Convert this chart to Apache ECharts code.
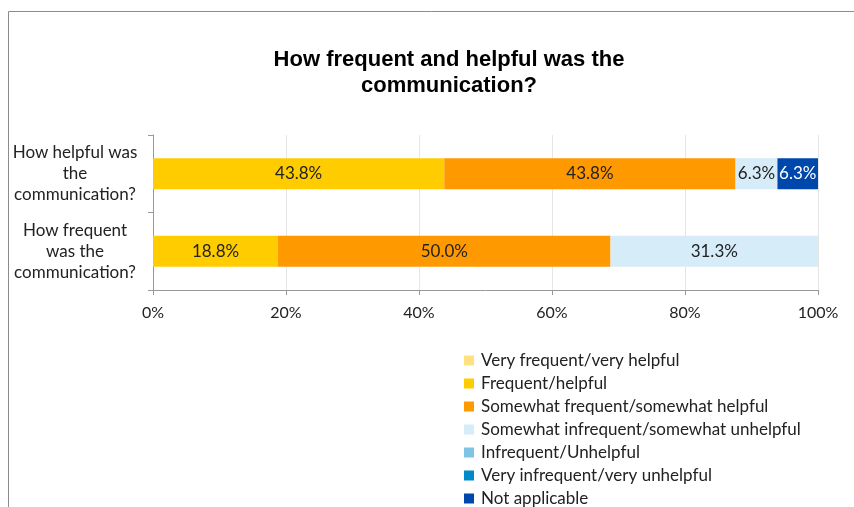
<!DOCTYPE html>
<html>
<head>
<meta charset="utf-8">
<script src="https://cdn.jsdelivr.net/npm/echarts@6/dist/echarts.min.js"></script>
<style>html,body{margin:0;padding:0;background:#fff}#c{width:854px;height:507px}</style>
</head>
<body>
<div id="c"></div>
<script>
// categories bottom-to-top (ECharts category y axis starts at bottom)
const categories = ['How frequent was the communication?', 'How helpful was the communication?'];
const categoryLabels = ['How frequent\nwas the\ncommunication?', 'How helpful was\nthe\ncommunication?'];
const seriesNames = [
  'Very frequent/very helpful',
  'Frequent/helpful',
  'Somewhat frequent/somewhat helpful',
  'Somewhat infrequent/somewhat unhelpful',
  'Infrequent/Unhelpful',
  'Very infrequent/very unhelpful',
  'Not applicable'
];
const veryFrequent = [0, 0];
const frequent = [18.8, 43.8];
const somewhatFrequent = [50.0, 43.8];
const somewhatInfrequent = [31.3, 6.3];
const infrequent = [0, 0];
const veryInfrequent = [0, 0];
const notApplicable = [0, 6.3];
const xTicks = [0, 20, 40, 60, 80, 100];
const colors = ['#FFE17F', '#FFCC00', '#FF9900', '#D6ECF8', '#7FC4E4', '#008AC9', '#0047AB'];
const labelColors = ['#222', '#222', '#222', '#222', '#222', '#fff', '#fff'];
const allData = [veryFrequent, frequent, somewhatFrequent, somewhatInfrequent, infrequent, veryInfrequent, notApplicable];

const FONT = 'Lato';
const chart = echarts.init(document.getElementById('c'), null, {renderer: 'canvas'});
chart.setOption({
  animation: false,
  color: colors,
  graphic: [{
    type: 'rect', silent: true, z: -10,
    shape: {x: 8.5, y: 11.5, width: 900, height: 600},
    style: {fill: 'none', stroke: '#8c8c8c', lineWidth: 1}
  }],
  title: {
    text: 'How frequent and helpful was the\ncommunication?',
    left: 449, top: 47, textAlign: 'center', padding: 0,
    textStyle: {fontFamily: 'Liberation Sans', fontWeight: 'bold', fontSize: 22, color: '#000', lineHeight: 26}
  },
  grid: {left: 153, right: 36, top: 135, bottom: 217, containLabel: false},
  legend: {
    orient: 'vertical', left: 464, top: 352, height: 200, padding: 0,
    itemWidth: 10, itemHeight: 10, itemGap: 6,
    icon: 'rect',
    textStyle: {fontFamily: FONT, fontSize: 17, color: '#222', lineHeight: 17, padding: [0, 0, 0, 2]},
    data: seriesNames
  },
  xAxis: {
    type: 'value', min: 0, max: 100, interval: 20,
    axisLine: {show: true, lineStyle: {color: '#999'}},
    axisTick: {show: true, length: 5, lineStyle: {color: '#999'}},
    splitLine: {show: true, lineStyle: {color: '#e6e6e6'}},
    axisLabel: {fontFamily: FONT, fontSize: 16, color: '#222', margin: 15,
      formatter: v => xTicks.includes(v) ? v + '%' : ''}
  },
  yAxis: {
    type: 'category', data: categories,
    axisLine: {show: true, lineStyle: {color: '#999'}},
    axisTick: {show: true, length: 5, lineStyle: {color: '#999'}},
    axisLabel: {fontFamily: FONT, fontSize: 17, color: '#222', align: 'center', margin: 78, lineHeight: 21,
      formatter: (v, i) => categoryLabels[categories.indexOf(v)]}
  },
  series: seriesNames.map((name, k) => ({
    name, type: 'bar', stack: 'total', barWidth: '40%',
    data: allData[k],
    label: {
      show: true, position: 'inside', fontFamily: FONT, fontSize: 17, color: labelColors[k],
      formatter: p => p.value > 0 ? p.value.toFixed(1) + '%' : ''
    }
  }))
});
</script>
</body>
</html>
